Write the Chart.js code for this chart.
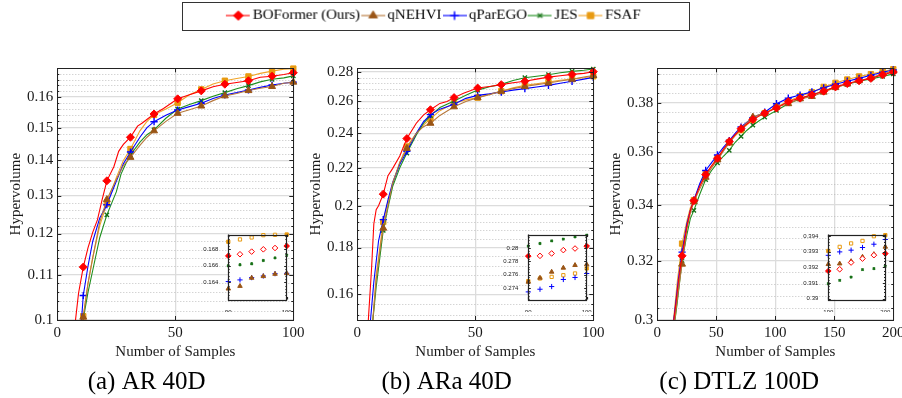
<!DOCTYPE html>
<html lang="en">
<head>
  <meta charset="UTF-8" />
  <title>Hypervolume vs. number of samples</title>
  <script src="https://cdn.jsdelivr.net/npm/chart.js"></script>
  <style>
    body {
      margin: 0;
      width: 902px;
      height: 398px;
      overflow: hidden;
      position: relative;
      background: #fff;
    }
    canvas {
      position: absolute;
    }
    #legend {
      left: 182px;
      top: 2px;
      border: 1.3px solid #333;
    }
  </style>
</head>
<body>
  <canvas id="legend" width="508" height="29"></canvas>
  <canvas id="c1" width="310" height="338" style="left:0;top:60px"></canvas>
  <canvas id="c2" width="310" height="338" style="left:300px;top:60px"></canvas>
  <canvas id="c3" width="327" height="338" style="left:585px;top:60px"></canvas>
  <canvas id="i1" width="100" height="86" style="left:198px;top:226px"></canvas>
  <canvas id="i2" width="100" height="86" style="left:498px;top:226px"></canvas>
  <canvas id="i3" width="100" height="86" style="left:798px;top:226px"></canvas>
  <script>
    const SERIES = ["BOFormer (Ours)", "qNEHVI", "qParEGO", "JES", "FSAF"];

    // (a) AR 40D  -- [samples, hypervolume]
    const arBOFormer = [[7.6,0.0995],[9,0.1058],[11,0.1118],[13,0.1164],[15,0.1203],[17,0.1235],[19,0.1289],[21,0.1341],[24,0.1382],[26,0.1427],[28,0.1448],[31,0.1470],[34,0.1505],[36,0.1515],[41,0.1544],[45,0.1562],[51,0.1594],[56,0.1608],[61,0.1621],[66,0.1635],[71,0.1644],[76,0.1650],[81,0.1656],[86,0.1668],[91,0.1672],[96,0.1678],[100,0.1684]];
    const arNEHVI = [[10.6,0.0995],[11,0.1006],[13,0.1080],[15,0.1140],[18,0.1230],[21,0.1289],[25,0.1345],[28,0.1385],[31,0.1409],[35,0.1445],[38,0.1470],[41,0.1490],[46,0.1520],[51,0.1546],[56,0.1558],[61,0.1570],[66,0.1588],[71,0.1604],[76,0.1612],[81,0.1622],[86,0.1630],[91,0.1636],[96,0.1647],[100,0.1651]];
    const arParEGO = [[10.2,0.0995],[11,0.1053],[13,0.1120],[15,0.1180],[18,0.1240],[21,0.1275],[25,0.1340],[28,0.1390],[31,0.1425],[35,0.1470],[38,0.1500],[41,0.1519],[46,0.1540],[51,0.1557],[56,0.1568],[61,0.1579],[66,0.1595],[71,0.1607],[76,0.1615],[81,0.1624],[86,0.1633],[91,0.1641],[96,0.1647],[100,0.1651]];
    const arJES = [[10.8,0.0995],[11,0.1002],[13,0.1060],[15,0.1110],[18,0.1190],[21,0.1248],[25,0.1310],[27,0.1360],[29,0.1390],[31,0.1416],[35,0.1455],[38,0.1478],[41,0.1493],[46,0.1530],[51,0.1560],[56,0.1575],[61,0.1588],[66,0.1603],[71,0.1615],[76,0.1628],[81,0.1639],[86,0.1652],[91,0.1661],[96,0.1666],[100,0.1673]];
    const arFSAF = [[10.6,0.0995],[11,0.1008],[13,0.1080],[15,0.1140],[18,0.1220],[21,0.1278],[25,0.1350],[28,0.1400],[31,0.1434],[35,0.1490],[38,0.1520],[41,0.1541],[46,0.1560],[51,0.1581],[56,0.1608],[61,0.1626],[66,0.1645],[71,0.1656],[76,0.1664],[81,0.1671],[86,0.1682],[91,0.1690],[96,0.1697],[100,0.1699]];
    const arMarks = [11, 21, 31, 41, 51, 61, 71, 81, 91, 100];
    const arYTicks = [0.1, 0.11, 0.12, 0.13, 0.14, 0.15, 0.16];
    const arInsetX = [90, 92, 94, 96, 98, 100];
    const arInsetBOFormer = [0.1672, 0.1674, 0.16772, 0.1680, 0.16816, 0.1684];
    const arInsetNEHVI = [0.16321, 0.16353, 0.16452, 0.16472, 0.1650, 0.16508];
    const arInsetParEGO = [0.16408, 0.16428, 0.16456, 0.16476, 0.16504, 0.16508];
    const arInsetJES = [0.1660, 0.16612, 0.16624, 0.16664, 0.16696, 0.16728];
    const arInsetFSAF = [0.16892, 0.1692, 0.16944, 0.16972, 0.16976, 0.1698];
    const arInsetYTicks = [0.164, 0.166, 0.168];

    // (b) ARa 40D
    const araBOFormer = [[4.6,0.149],[6,0.170],[7,0.191],[8,0.198],[9,0.200],[11,0.2059],[13,0.2157],[15,0.2197],[18,0.2266],[21,0.2368],[25,0.2461],[28,0.2512],[31,0.2546],[35,0.2587],[38,0.2600],[41,0.2625],[45,0.2654],[51,0.2689],[56,0.2700],[61,0.2712],[66,0.2725],[71,0.2735],[76,0.2750],[81,0.2764],[86,0.2773],[91,0.2783],[96,0.2790],[100,0.2802]];
    const araNEHVI = [[6.5,0.149],[8,0.166],[10,0.182],[11,0.1890],[13,0.2000],[15,0.2120],[18,0.2230],[21,0.2310],[25,0.2400],[28,0.2440],[31,0.2461],[35,0.2510],[41,0.2565],[46,0.2600],[51,0.2625],[56,0.2645],[61,0.2667],[66,0.2685],[71,0.2700],[76,0.2712],[81,0.2723],[86,0.2737],[91,0.2749],[96,0.2765],[100,0.2775]];
    const araParEGO = [[5.5,0.149],[7,0.165],[9,0.183],[11,0.1931],[13,0.2030],[15,0.2120],[18,0.2220],[21,0.2294],[25,0.2400],[28,0.2470],[31,0.2515],[35,0.2550],[41,0.2581],[46,0.2620],[51,0.2640],[56,0.2650],[61,0.2662],[66,0.2675],[71,0.2685],[76,0.2696],[81,0.2707],[86,0.2722],[91,0.2735],[96,0.2750],[100,0.2762]];
    const araJES = [[6.5,0.149],[8,0.163],[11,0.1880],[13,0.1990],[15,0.2100],[18,0.2200],[21,0.2283],[25,0.2390],[28,0.2460],[31,0.2509],[35,0.2560],[41,0.2603],[46,0.2640],[51,0.2675],[56,0.2698],[61,0.2714],[66,0.2740],[71,0.2760],[76,0.2770],[81,0.2781],[86,0.2795],[91,0.2804],[96,0.2812],[100,0.2821]];
    const araFSAF = [[6.5,0.149],[8,0.168],[11,0.1920],[13,0.2020],[15,0.2110],[18,0.2230],[21,0.2321],[25,0.2400],[28,0.2450],[31,0.2489],[35,0.2540],[41,0.2590],[46,0.2610],[51,0.2625],[56,0.2648],[61,0.2668],[66,0.2690],[71,0.2707],[76,0.2718],[81,0.2730],[86,0.2742],[91,0.2750],[96,0.2760],[100,0.2770]];
    const araMarks = [11, 21, 31, 41, 51, 61, 71, 81, 91, 100];
    const araYTicks = [0.16, 0.18, 0.2, 0.22, 0.24, 0.26, 0.28];
    const araInsetX = [90, 92, 94, 96, 98, 100];
    const araInsetBOFormer = [0.27876, 0.2788, 0.27916, 0.27966, 0.2799, 0.28026];
    const araInsetNEHVI = [0.2749, 0.2755, 0.2764, 0.2770, 0.2774, 0.2775];
    const araInsetParEGO = [0.2734, 0.2738, 0.2742, 0.27526, 0.27556, 0.27616];
    const araInsetJES = [0.28026, 0.28066, 0.28105, 0.2813, 0.28165, 0.2819];
    const araInsetFSAF = [0.27501, 0.27541, 0.27565, 0.2759, 0.27616, 0.27691];
    const araInsetYTicks = [0.274, 0.276, 0.278, 0.28];

    // (c) DTLZ 100D
    const dtBOFormer = [[13,0.297],[16,0.306],[18,0.313],[21,0.3217],[25,0.332],[28,0.338],[31,0.3416],[36,0.3470],[41,0.3514],[46,0.3548],[51,0.3577],[56,0.3612],[61,0.3643],[66,0.3670],[71,0.3694],[76,0.3713],[81,0.3731],[86,0.3745],[91,0.3757],[101,0.3778],[111,0.3805],[121,0.3819],[131,0.3833],[141,0.3848],[151,0.3866],[161,0.3880],[171,0.3892],[181,0.3902],[191,0.3917],[200,0.3929]];
    const dtNEHVI = [[14,0.297],[17,0.307],[19,0.313],[21,0.3188],[25,0.331],[28,0.337],[31,0.3412],[36,0.3460],[41,0.3504],[46,0.3540],[51,0.3571],[56,0.3605],[61,0.3637],[66,0.3668],[71,0.3694],[76,0.3720],[81,0.3741],[86,0.3750],[91,0.3757],[101,0.3782],[111,0.3796],[121,0.3816],[131,0.3826],[141,0.3844],[151,0.3863],[161,0.3878],[171,0.3892],[181,0.3905],[191,0.3922],[200,0.3933]];
    const dtParEGO = [[13,0.297],[16,0.307],[18,0.314],[21,0.3230],[25,0.333],[28,0.338],[31,0.3418],[36,0.3480],[41,0.3530],[46,0.3560],[51,0.3590],[56,0.3620],[61,0.3647],[66,0.3675],[71,0.3701],[76,0.3720],[81,0.3739],[86,0.3750],[91,0.3761],[101,0.3796],[111,0.3819],[121,0.3832],[131,0.3845],[141,0.3862],[151,0.3877],[161,0.3890],[171,0.3902],[181,0.3915],[191,0.3928],[200,0.3938]];
    const dtJES = [[14,0.297],[17,0.306],[19,0.313],[21,0.3200],[25,0.329],[28,0.335],[31,0.3380],[36,0.3440],[41,0.3495],[46,0.3530],[51,0.3559],[56,0.3585],[61,0.3608],[66,0.3640],[71,0.3663],[76,0.3688],[81,0.3708],[86,0.3725],[91,0.3741],[101,0.3768],[111,0.3796],[121,0.3816],[131,0.3833],[141,0.3848],[151,0.3866],[161,0.3877],[171,0.3890],[181,0.3900],[191,0.3910],[200,0.3921]];
    const dtFSAF = [[13,0.297],[15,0.305],[17,0.313],[21,0.3260],[25,0.334],[28,0.339],[31,0.3418],[36,0.3475],[41,0.3516],[46,0.3548],[51,0.3577],[56,0.3610],[61,0.3640],[66,0.3665],[71,0.3688],[76,0.3710],[81,0.3729],[86,0.3744],[91,0.3757],[101,0.3782],[111,0.3806],[121,0.3827],[131,0.3844],[141,0.3866],[151,0.3883],[161,0.3897],[171,0.3910],[181,0.3920],[191,0.3931],[200,0.3941]];
    const dtMarks = [21, 31, 41, 51, 61, 71, 81, 91, 101, 111, 121, 131, 141, 151, 161, 171, 181, 191, 200];
    const dtYTicks = [0.3, 0.32, 0.34, 0.36, 0.38];
    const dtInsetX = [190, 192, 194, 196, 198, 200];
    const dtInsetBOFormer = [0.39177, 0.39188, 0.39231, 0.39256, 0.39278, 0.39288];
    const dtInsetNEHVI = [0.3922, 0.39224, 0.39239, 0.39267, 0.39284, 0.39331];
    const dtInsetParEGO = [0.39277, 0.39299, 0.3931, 0.39327, 0.39348, 0.39378];
    const dtInsetJES = [0.39096, 0.39117, 0.39138, 0.39186, 0.39192, 0.39207];
    const dtInsetFSAF = [0.39305, 0.39331, 0.39353, 0.39369, 0.39399, 0.39406];
    const dtInsetYTicks = [0.39, 0.391, 0.392, 0.393, 0.394];

    // styles, same order as SERIES
    const lineColor = ["#ff0000", "#b7793d", "#0000ff", "#1f8f1f", "#f0a52a"];
    const markColor = ["#ff0000", "#9a5516", "#0000ff", "#167016", "#e89a10"];
    const markShape = ["rectRot", "triangle", "cross", "crossRot", "rect"];
    const markSize = [4, 4, 3.6, 3, 3.8];

    const serif = "'Liberation Serif', 'Times New Roman', serif";
    const sans = "'Liberation Sans', Arial, sans-serif";
    Chart.defaults.font.family = serif;
    Chart.defaults.color = "#1a1a1a";

    // minor positions between the labelled ticks (4 per interval)
    function minorTicks(major, parts, lo, hi) {
      const step = (major[1] - major[0]) / parts;
      const out = [];
      for (let k = -3 * parts; k < 40 * parts; k++) {
        if (k % parts === 0) continue;
        const v = major[0] + k * step;
        if (v > lo + 1e-9 && v < hi - 1e-9) out.push(+v.toFixed(6));
      }
      return out;
    }

    // box, inner tick marks, dotted minor grid, white fill for insets
    const frame = {
      id: "frame",
      beforeDraw(chart, args, o) {
        if (!o.fill) return;
        const { ctx, chartArea: a } = chart;
        ctx.save();
        ctx.fillStyle = "#fff";
        ctx.fillRect(a.left, a.top, a.width, a.height);
        ctx.restore();
      },
      beforeDatasetsDraw(chart, args, o) {
        if (!o.minorGrid) return;
        const { ctx, chartArea: a } = chart;
        const y = chart.scales.y;
        ctx.save();
        ctx.strokeStyle = "#b3b3b3";
        ctx.lineWidth = 0.8;
        ctx.setLineDash([1, 2]);
        o.minors.forEach(v => {
          const p = Math.round(y.getPixelForValue(v)) + 0.5;
          ctx.beginPath();
          ctx.moveTo(a.left, p);
          ctx.lineTo(a.right, p);
          ctx.stroke();
        });
        ctx.restore();
      },
      afterDatasetsDraw(chart, args, o) {
        const { ctx, chartArea: a } = chart;
        const x = chart.scales.x, y = chart.scales.y;
        ctx.save();
        ctx.strokeStyle = "#222";
        ctx.lineWidth = o.width || 1;
        ctx.beginPath();
        const yMark = (v, len) => {
          const p = Math.round(y.getPixelForValue(v)) + 0.5;
          ctx.moveTo(a.left, p); ctx.lineTo(a.left + len, p);
          ctx.moveTo(a.right, p); ctx.lineTo(a.right - len, p);
        };
        y.ticks.forEach(t => yMark(t.value, o.tick));
        o.minors.forEach(v => yMark(v, o.minorTick));
        x.ticks.forEach(t => {
          const p = Math.round(x.getPixelForValue(t.value)) + 0.5;
          ctx.moveTo(p, a.bottom); ctx.lineTo(p, a.bottom - o.tick);
          ctx.moveTo(p, a.top); ctx.lineTo(p, a.top + o.tick);
        });
        ctx.stroke();
        ctx.strokeRect(Math.round(a.left) + 0.5, Math.round(a.top) + 0.5, Math.round(a.width), Math.round(a.height));
        ctx.restore();
      }
    };

    function mainChart(id, o) {
      const datasets = o.series.map((pts, i) => ({
        label: SERIES[i],
        data: pts.map(p => ({ x: p[0], y: p[1] })),
        borderColor: lineColor[i],
        borderWidth: 1.1,
        pointStyle: markShape[i],
        pointRadius: c => (c.raw && o.marks.includes(c.raw.x)) ? markSize[i] : 0,
        pointBackgroundColor: markColor[i],
        pointBorderColor: markColor[i],
        pointBorderWidth: (i === 2 || i === 3) ? 1.4 : 1,
        tension: 0,
        clip: { left: 0, top: 6, right: 8, bottom: 0 }
      }));
      return new Chart(document.getElementById(id), {
        type: "line",
        data: { datasets },
        plugins: [frame],
        options: {
          responsive: false,
          animation: false,
          events: [],
          layout: { padding: { left: 0, top: 8.3, right: o.padRight, bottom: 0 } },
          plugins: {
            legend: { display: false },
            tooltip: { enabled: false },
            title: {
              display: true,
              position: "bottom",
              text: o.caption,
              color: "#000",
              font: { family: serif, size: 25, weight: "normal" },
              padding: { top: 2, bottom: 1 }
            },
            frame: { minorGrid: true, minors: minorTicks(o.yTicks, 5, o.yMin, o.yMax), tick: 4, minorTick: 2 }
          },
          scales: {
            x: {
              type: "linear",
              min: 0,
              max: o.xMax,
              ticks: { stepSize: 50, padding: 4, maxRotation: 0, autoSkip: false, font: { size: 15 } },
              grid: { color: "#dcdcdc", lineWidth: 1.3, drawTicks: false },
              border: { display: false },
              title: { display: true, text: "Number of Samples", font: { size: 15 }, padding: { top: 2, bottom: 4 } },
              afterFit: s => { s.height = 45; s.paddingLeft = 0; s.paddingRight = 0; }
            },
            y: {
              type: "logarithmic",
              min: o.yMin,
              max: o.yMax,
              afterBuildTicks: s => { s.ticks = o.yTicks.map(v => ({ value: v })); },
              ticks: { autoSkip: false, padding: 4, font: { size: 15 }, callback: v => String(+Number(v).toFixed(3)) },
              grid: { color: "#dcdcdc", lineWidth: 1.3, drawTicks: false },
              border: { display: false },
              title: { display: true, text: "Hypervolume", font: { size: 15 }, padding: { top: o.yTitlePad, bottom: 0 } },
              afterFit: s => { s.width = o.yWidth; s.paddingTop = 0; s.paddingBottom = 0; }
            }
          }
        }
      });
    }

    function insetChart(id, o) {
      const ends = [o.xs[0], o.xs[o.xs.length - 1]];
      const datasets = o.series.map((vals, i) => ({
        label: SERIES[i],
        data: vals.map((v, k) => ({ x: o.xs[k], y: v })),
        showLine: false,
        pointStyle: markShape[i],
        pointRadius: [2.8, 2.6, 2.6, 1.6, 2.3][i],
        pointBackgroundColor: c => ((i === 0 || i === 4) && c.raw && !ends.includes(c.raw.x)) ? "#fff" : markColor[i],
        pointBorderColor: markColor[i],
        pointBorderWidth: i === 3 ? 1.6 : 1,
        clip: false
      }));
      return new Chart(document.getElementById(id), {
        type: "line",
        data: { datasets },
        plugins: [frame],
        options: {
          responsive: false,
          animation: false,
          events: [],
          layout: { padding: { left: 0, top: 8.5, right: o.padRight, bottom: 0 } },
          plugins: {
            legend: { display: false },
            tooltip: { enabled: false },
            frame: { fill: true, minors: minorTicks(o.yTicks, 5, o.yMin, o.yMax), tick: 2.5, minorTick: 1.3, width: 1.2 }
          },
          scales: {
            x: {
              type: "linear",
              min: o.xs[0],
              max: o.xs[o.xs.length - 1],
              ticks: { stepSize: 10, padding: 1, maxRotation: 0, autoSkip: false, color: "#222", font: { family: sans, size: 6 } },
              grid: { display: false },
              border: { display: false },
              afterFit: s => { s.height = 12.5; s.paddingLeft = 0; s.paddingRight = 0; }
            },
            y: {
              type: "linear",
              min: o.yMin,
              max: o.yMax,
              afterBuildTicks: s => { s.ticks = o.yTicks.map(v => ({ value: v })); },
              ticks: { autoSkip: false, padding: 2, color: "#222", font: { family: sans, size: 6 }, callback: v => String(+Number(v).toFixed(4)) },
              grid: { display: false },
              border: { display: false },
              afterFit: s => { s.width = 30.3; s.paddingTop = 0; s.paddingBottom = 0; }
            }
          }
        }
      });
    }

    // legend icons: short line with the marker in the middle
    function legendIcon(i) {
      const c = document.createElement("canvas");
      c.width = 24;
      c.height = 12;
      const g = c.getContext("2d");
      g.globalAlpha = 0.6;
      g.strokeStyle = lineColor[i];
      g.lineWidth = 2;
      g.beginPath();
      g.moveTo(0, 6);
      g.lineTo(24, 6);
      g.stroke();
      g.globalAlpha = 1;
      g.fillStyle = markColor[i];
      g.strokeStyle = markColor[i];
      g.lineWidth = (i === 2 || i === 3) ? 1.5 : 1;
      Chart.helpers.drawPoint(g, { pointStyle: markShape[i], radius: [5, 5, 4.5, 3.2, 4.6][i], borderWidth: g.lineWidth, rotation: 0 }, 12, 6);
      return c;
    }

    new Chart(document.getElementById("legend"), {
      type: "line",
      data: { datasets: SERIES.map(n => ({ label: n, data: [] })) },
      options: {
        responsive: false,
        animation: false,
        events: [],
        layout: { padding: 0 },
        scales: { x: { display: false }, y: { display: false } },
        plugins: {
          tooltip: { enabled: false },
          legend: {
            position: "top",
            maxHeight: 40,
            labels: {
              usePointStyle: true,
              pointStyleWidth: 14,
              padding: 6,
              color: "#000",
              font: { family: serif, size: 15 },
              generateLabels: () => SERIES.map((n, i) => ({
                text: n,
                datasetIndex: i,
                pointStyle: legendIcon(i),
                fillStyle: markColor[i],
                strokeStyle: markColor[i],
                lineWidth: 0,
                hidden: false,
                fontColor: "#000"
              }))
            }
          }
        }
      }
    });

    mainChart("c1", {
      series: [arBOFormer, arNEHVI, arParEGO, arJES, arFSAF],
      marks: arMarks, xMax: 100, yMin: 0.1, yMax: 0.17, yTicks: arYTicks,
      caption: "(a) AR 40D", padRight: 16.7, yWidth: 57.3, yTitlePad: 7
    });
    mainChart("c2", {
      series: [araBOFormer, araNEHVI, araParEGO, araJES, araFSAF],
      marks: araMarks, xMax: 100, yMin: 0.15, yMax: 0.2826, yTicks: araYTicks,
      caption: "(b) ARa 40D", padRight: 16.7, yWidth: 57.3, yTitlePad: 7
    });
    mainChart("c3", {
      series: [dtBOFormer, dtNEHVI, dtParEGO, dtJES, dtFSAF],
      marks: dtMarks, xMax: 200, yMin: 0.3, yMax: 0.3945, yTicks: dtYTicks,
      caption: "(c) DTLZ 100D", padRight: 18.7, yWidth: 72.3, yTitlePad: 22
    });

    insetChart("i1", {
      xs: arInsetX, series: [arInsetBOFormer, arInsetNEHVI, arInsetParEGO, arInsetJES, arInsetFSAF],
      yMin: 0.1619, yMax: 0.1698, yTicks: arInsetYTicks, padRight: 11.3
    });
    insetChart("i2", {
      xs: araInsetX, series: [araInsetBOFormer, araInsetNEHVI, araInsetParEGO, araInsetJES, araInsetFSAF],
      yMin: 0.27226, yMax: 0.282, yTicks: araInsetYTicks, padRight: 11.3
    });
    insetChart("i3", {
      xs: dtInsetX, series: [dtInsetBOFormer, dtInsetNEHVI, dtInsetParEGO, dtInsetJES, dtInsetFSAF],
      yMin: 0.38995, yMax: 0.3941, yTicks: dtInsetYTicks, padRight: 12.7
    });
  </script>
</body>
</html>
